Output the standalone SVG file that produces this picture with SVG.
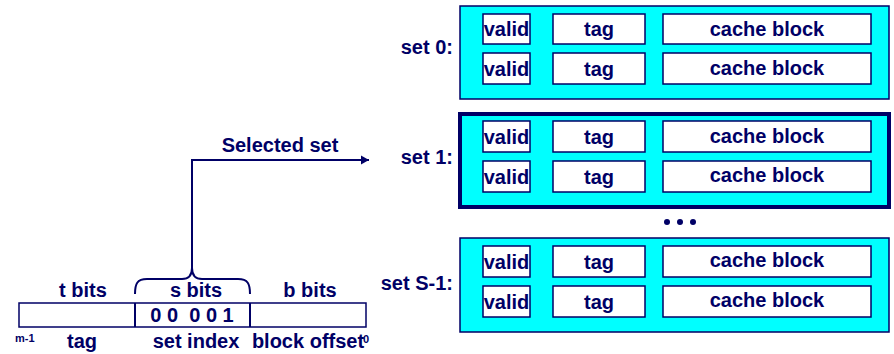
<svg xmlns="http://www.w3.org/2000/svg" width="894" height="354" viewBox="0 0 894 354">
<defs>
<style>
text{font-family:"Liberation Sans",Arial,sans-serif;font-weight:bold;fill:#000066;}
.t{font-size:20px;text-anchor:middle;}
.lbl{font-size:20px;text-anchor:end;}
.sm{font-size:11px;}
.set{fill:#00ffff;stroke:#000066;stroke-width:1.5;}
.sel{fill:#00ffff;stroke:#000066;stroke-width:4;}
.cell{fill:#ffffff;stroke:#000066;stroke-width:1.5;}
.line{fill:none;stroke:#000066;stroke-width:2;}
</style>
<marker id="arr" markerWidth="10" markerHeight="10" refX="8" refY="5" orient="auto" markerUnits="userSpaceOnUse">
<path d="M0,0.5 L8,5 L0,9.5 Z" fill="#000066"/>
</marker>
</defs>
<rect width="894" height="354" fill="#ffffff"/>

<g id="set0">
<text class="lbl" x="453" y="54">set 0:</text>
<rect class="set" x="460" y="6" width="429" height="93"/>
<rect class="cell" x="483" y="14" width="47" height="30"/>
<rect class="cell" x="553" y="14" width="92" height="30"/>
<rect class="cell" x="663" y="14" width="208" height="30"/>
<text class="t" x="506.5" y="36">valid</text>
<text class="t" x="599" y="36">tag</text>
<text class="t" x="767" y="36">cache block</text>
<rect class="cell" x="483" y="53" width="47" height="31"/>
<rect class="cell" x="553" y="53" width="92" height="31"/>
<rect class="cell" x="663" y="53" width="208" height="31"/>
<text class="t" x="506.5" y="76">valid</text>
<text class="t" x="599" y="76">tag</text>
<text class="t" x="767" y="75">cache block</text>
</g>

<g id="set1">
<text class="lbl" x="453" y="164">set 1:</text>
<rect class="sel" x="460" y="114" width="429" height="93"/>
<rect class="cell" x="483" y="121" width="47" height="31"/>
<rect class="cell" x="553" y="121" width="92" height="31"/>
<rect class="cell" x="663" y="121" width="208" height="31"/>
<text class="t" x="506.5" y="144">valid</text>
<text class="t" x="599" y="144">tag</text>
<text class="t" x="767" y="143">cache block</text>
<rect class="cell" x="483" y="161" width="47" height="31"/>
<rect class="cell" x="553" y="161" width="92" height="31"/>
<rect class="cell" x="663" y="161" width="208" height="31"/>
<text class="t" x="506.5" y="184">valid</text>
<text class="t" x="599" y="184">tag</text>
<text class="t" x="767" y="182">cache block</text>
</g>

<g id="dots" fill="#000066">
<circle cx="667" cy="222" r="3"/>
<circle cx="680" cy="222" r="3"/>
<circle cx="693" cy="222" r="3"/>
</g>

<g id="setS1">
<text class="lbl" x="453" y="290">set S-1:</text>
<rect class="set" x="460" y="238" width="429" height="94"/>
<rect class="cell" x="483" y="246" width="47" height="31"/>
<rect class="cell" x="553" y="246" width="92" height="31"/>
<rect class="cell" x="663" y="246" width="208" height="31"/>
<text class="t" x="506.5" y="269">valid</text>
<text class="t" x="599" y="269">tag</text>
<text class="t" x="767" y="267">cache block</text>
<rect class="cell" x="483" y="286" width="47" height="31"/>
<rect class="cell" x="553" y="286" width="92" height="31"/>
<rect class="cell" x="663" y="286" width="208" height="31"/>
<text class="t" x="506.5" y="309">valid</text>
<text class="t" x="599" y="309">tag</text>
<text class="t" x="767" y="307">cache block</text>
</g>

<g id="address">
<rect class="cell" x="19" y="303" width="347" height="24"/>
<line class="line" x1="135" y1="303" x2="135" y2="327" stroke-width="1.5"/>
<line class="line" x1="250" y1="303" x2="250" y2="327" stroke-width="1.5"/>
<text class="t" x="83" y="297">t bits</text>
<text class="t" x="196" y="297">s bits</text>
<text class="t" x="310" y="297">b bits</text>
<text class="t" x="192" y="322" style="white-space:pre">0 0  0 0 1</text>
<text class="sm" x="15" y="342">m-1</text>
<text class="t" x="82" y="348">tag</text>
<text class="t" x="196" y="348">set index</text>
<text class="t" x="308" y="348">block offset</text>
<text class="sm" x="363" y="343">0</text>
</g>

<g id="connectors">
<path class="line" d="M135,294 C135,284 137,279 147,279 L182,279 C188,279 192,276 192,268 C192,276 196,279 202,279 L238,279 C248,279 250,284 250,294"/>
<path class="line" d="M192,268 L192,160 L369,160" marker-end="url(#arr)"/>
<text class="t" x="280" y="152">Selected set</text>
</g>
</svg>
